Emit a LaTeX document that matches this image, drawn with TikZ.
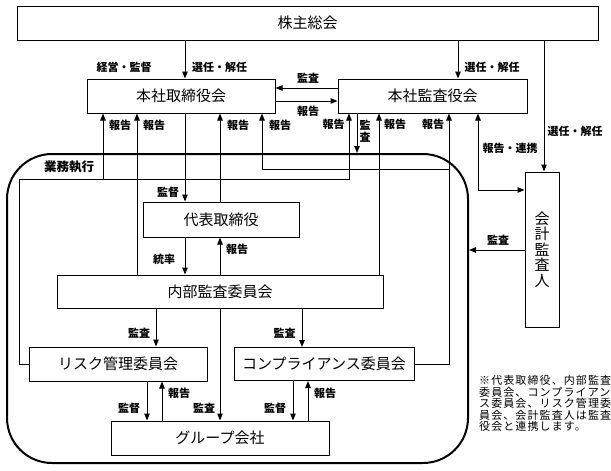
\documentclass[tikz,border=0pt]{standalone}
\usepackage{fontspec}
\setmainfont{Noto Sans CJK JP}
\newfontfamily\notefont{Noto Sans CJK JP}[LetterSpace=10]
\usetikzlibrary{arrows.meta}
\begin{document}
\begin{tikzpicture}[x=1pt,y=-1pt,
  box/.style={draw, line width=1pt, inner sep=0pt, font=\fontsize{15}{16}\selectfont},
  frm/.style={draw, line width=2pt, inner sep=0pt, rounded corners=45pt},
  lab/.style={inner sep=0pt, font=\bfseries\fontsize{11}{11.5}\selectfont, align=center},
  con/.style={line width=1pt},
  arr/.style={con, -{Triangle[length=7pt,width=5.5pt]}},
  arrtwo/.style={con, {Triangle[length=7pt,width=5.5pt]}-{Triangle[length=7pt,width=5.5pt]}},
  notetext/.style={inner sep=0pt, font=\notefont\fontsize{11}{11.6}\selectfont, align=left}]
\useasboundingbox (0,0) rectangle (611,471);

% boxes
\node[box, minimum width=581pt, minimum height=34pt] (kabu) at (307.5,23) {株主総会};
\node[box, minimum width=188pt, minimum height=34pt] (tori) at (181,96) {本社取締役会};
\node[box, minimum width=189pt, minimum height=34pt] (kansa) at (432.5,96) {本社監査役会};
\node[frm, minimum width=461pt, minimum height=309pt] (frame) at (237.5,308.5) {};
\node[box, minimum width=156pt, minimum height=35pt] (daihyo) at (221,219.5) {代表取締役};
\node[box, minimum width=326pt, minimum height=33pt] (naibu) at (220,291.5) {内部監査委員会};
\node[box, minimum width=178pt, minimum height=34pt] (risk) at (118,364) {リスク管理委員会};
\node[box, minimum width=180pt, minimum height=33pt] (comp) at (324,364) {コンプライアンス委員会};
\node[box, minimum width=218pt, minimum height=34pt] (group) at (220,438) {グループ会社};
\node[box, minimum width=34pt, minimum height=155pt, align=center, font=\fontsize{15}{15.6}\selectfont] (kaikei) at (542,249.5) {会\\計\\監\\査\\人};

% column / row coordinates
\coordinate (c103) at (103,0);
\coordinate (c137) at (137,0);
\coordinate (c147) at (147,0);
\coordinate (c156) at (156,0);
\coordinate (c162) at (162,0);
\coordinate (c185) at (185,0);
\coordinate (c220) at (220,0);
\coordinate (c293) at (293,0);
\coordinate (c302) at (302,0);
\coordinate (c308) at (308,0);
\coordinate (c357) at (357,0);
\coordinate (c379) at (379,0);
\coordinate (c458) at (458,0);
\coordinate (c544) at (544,0);
\coordinate (y88) at (0,88);
\coordinate (y101) at (0,101);
\coordinate (y250) at (0,250);
\coordinate (r1) at (19,179);
\coordinate (r2) at (349,179);
\coordinate (r3) at (103,179);
\coordinate (q1) at (449,169);
\coordinate (q2) at (262,169);
\coordinate (k1) at (478,190);

% connectors from shareholders
\draw[arr] (kabu.south -| c185) -- (tori.north -| c185);
\draw[arr] (kabu.south -| c458) -- (kansa.north -| c458);
\draw[arr] (kabu.south -| c544) -- (kaikei.north -| c544);

% between boards
\draw[arr] (kansa.west |- y88) -- (tori.east |- y88);
\draw[arr] (tori.east |- y101) -- (kansa.west |- y101);

% board -> representative director
\draw[arr] (tori.south -| c185) -- (daihyo.north -| c185);
\draw[arr] (daihyo.north -| c220) -- (tori.south -| c220);
\draw[arr] (daihyo.south -| c185) -- (naibu.north -| c185);
\draw[arr] (naibu.north -| c220) -- (daihyo.south -| c220);
\draw[arr] (naibu.north -| c137) -- (tori.south -| c137);
\draw[arr] (naibu.north -| c379) -- (kansa.south -| c379);

% risk committee reports
\draw[arr] (risk.west) -- (risk.west -| r1) -- (r1) -- (r2) -- (kansa.south -| r2);
\draw[arr] (r3) -- (tori.south -| r3);

% compliance committee reports
\draw[arr] (comp.east) -- (comp.east -| q1) -- (kansa.south -| q1);
\draw[arr] (q1) -- (q2) -- (tori.south -| q2);

% audit board
\draw[arr] (kansa.south -| c357) -- (frame.north -| c357);
\draw[arrtwo] (kansa.south -| k1) -- (k1) -- (kaikei.west |- k1);
\draw[arr] (kaikei.west |- y250) -- (frame.east |- y250);

% internal audit committee down
\draw[arr] (naibu.south -| c156) -- (risk.north -| c156);
\draw[arr] (naibu.south -| c302) -- (comp.north -| c302);
\draw[arr] (naibu.south -| c220) -- (group.north -| c220);

% committees <-> group
\draw[arr] (risk.south -| c147) -- (group.north -| c147);
\draw[arr] (group.north -| c162) -- (risk.south -| c162);
\draw[arr] (comp.south -| c293) -- (group.north -| c293);
\draw[arr] (group.north -| c308) -- (comp.south -| c308);

% labels
\node[lab] (t1) at (124,67) {経営・監督};
\node[lab] (t2) at (219.5,67) {選任・解任};
\node[lab] (t3) at (492,67) {選任・解任};
\node[lab] (t4) at (575,131) {選任・解任};
\node[lab] (t5) at (308,78) {監査};
\node[lab] (t6) at (308,111) {報告};
\node[lab] (t7) at (120,125) {報告};
\node[lab] (t8) at (154,125) {報告};
\node[lab] (t9) at (238,125) {報告};
\node[lab] (t10) at (280,125) {報告};
\node[lab] (t11) at (333.5,124) {報告};
\node[lab] (t12) at (395,124) {報告};
\node[lab] (t13) at (433,124) {報告};
\node[lab] (t14) at (365,131) {監\\査};
\node[lab] (t15) at (510,148) {報告・連携};
\node[lab, font=\bfseries\fontsize{12.5}{13}\selectfont] (t16) at (69,167) {業務執行};
\node[lab] (t17) at (168,192) {監督};
\node[lab] (t18) at (164,259) {統率};
\node[lab] (t19) at (237,249) {報告};
\node[lab] (t20) at (498,240) {監査};
\node[lab] (t21) at (139,333) {監査};
\node[lab] (t22) at (284.5,333) {監査};
\node[lab] (t23) at (129,408) {監督};
\node[lab] (t24) at (204,408) {監査};
\node[lab] (t25) at (275,408) {監督};
\node[lab] (t26) at (179,393) {報告};
\node[lab] (t27) at (325,393) {報告};

\node[notetext, anchor=north west] (note) at (479,375) {※代表取締役、内部監査\\委員会、コンプライアン\\ス委員会、リスク管理委\\員会、会計監査人は監査\\役会と連携します。};
\end{tikzpicture}
\end{document}
